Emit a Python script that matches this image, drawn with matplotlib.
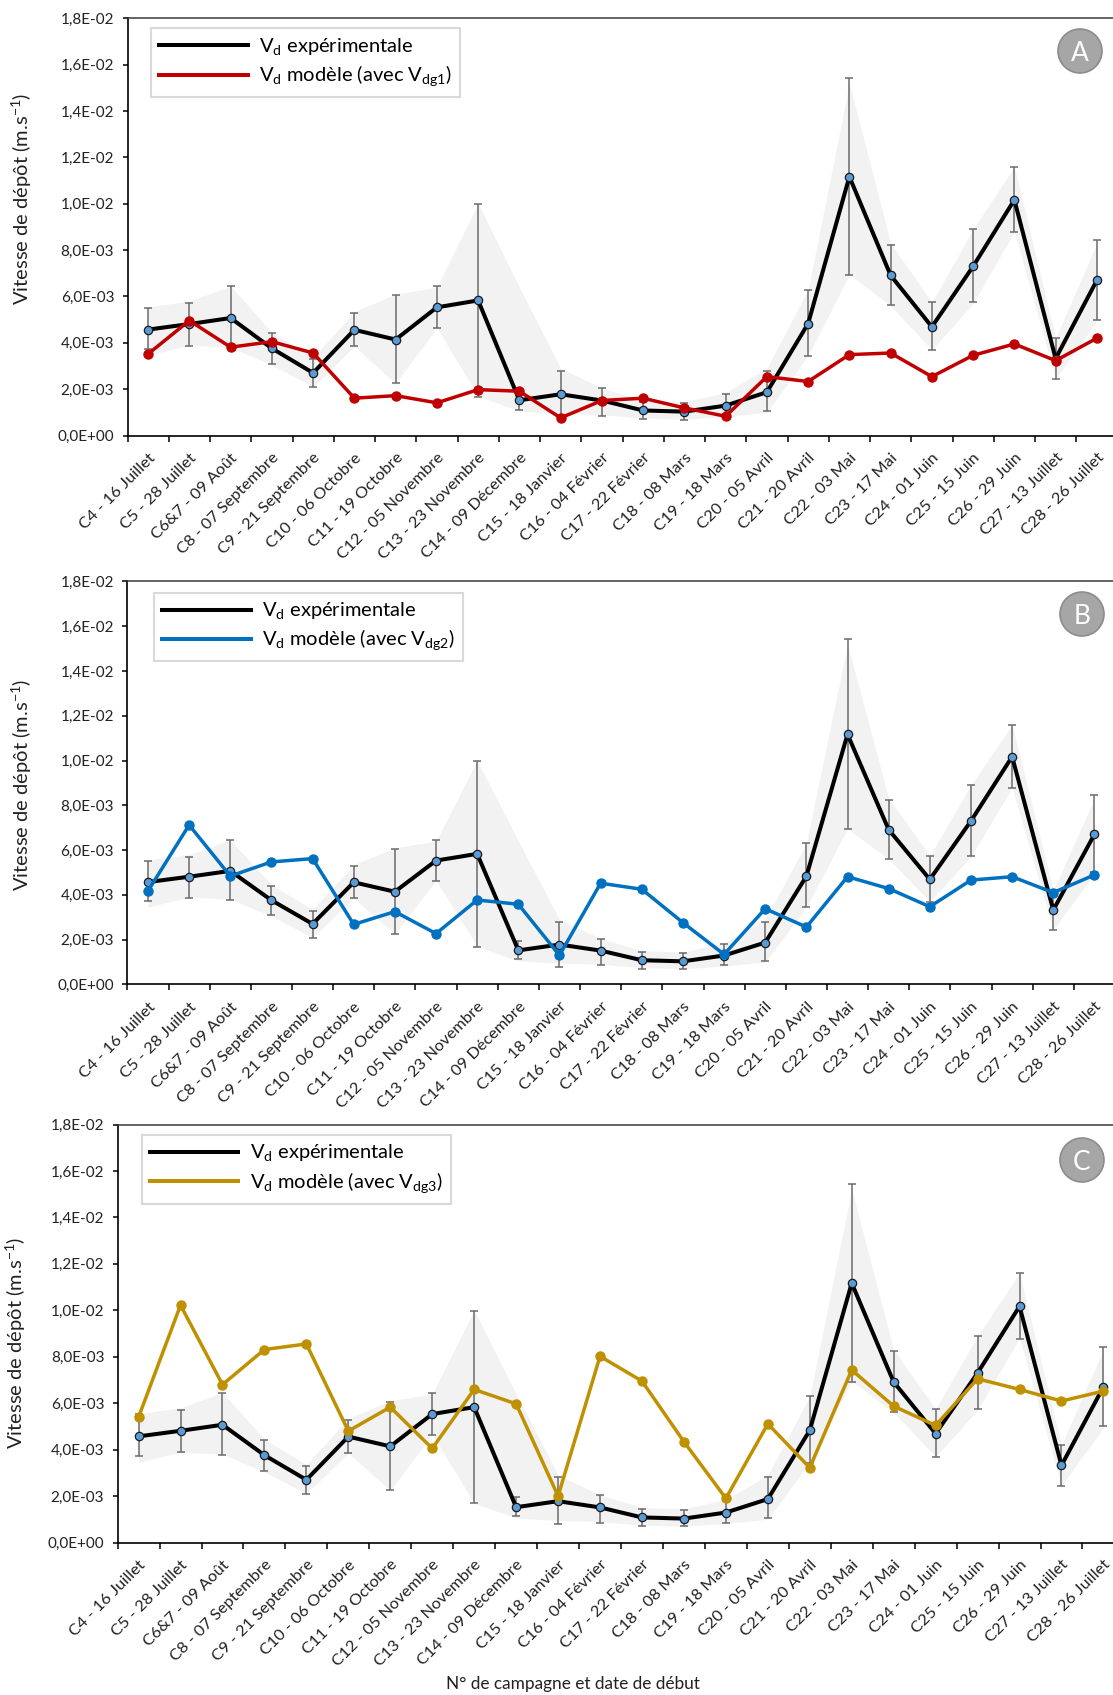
import numpy as np
import matplotlib.pyplot as plt
from matplotlib.patches import Ellipse
from matplotlib.lines import Line2D
from matplotlib.ticker import FuncFormatter, FixedLocator

plt.rcParams['font.family'] = ['Lato', 'DejaVu Sans']
plt.rcParams['mathtext.fontset'] = 'custom'
plt.rcParams['mathtext.rm'] = 'Lato'

W, H = 1113, 1695

campagnes = ["C4 - 16 Juillet", "C5 - 28 Juillet", "C6&7 - 09 Août", "C8 - 07 Septembre",
             "C9 - 21 Septembre", "C10 - 06 Octobre", "C11 - 19 Octobre", "C12 - 05 Novembre",
             "C13 - 23 Novembre", "C14 - 09 Décembre", "C15 - 18 Janvier", "C16 - 04 Février",
             "C17 - 22 Février", "C18 - 08 Mars", "C19 - 18 Mars", "C20 - 05 Avril",
             "C21 - 20 Avril", "C22 - 03 Mai", "C23 - 17 Mai", "C24 - 01 Juin",
             "C25 - 15 Juin", "C26 - 29 Juin", "C27 - 13 Juillet", "C28 - 26 Juillet"]

# vitesses en 1E-03 m/s
vd_exp = [4.57, 4.81, 5.07, 3.76, 2.70, 4.56, 4.14, 5.53, 5.83, 1.52, 1.78, 1.51,
          1.08, 1.03, 1.29, 1.87, 4.83, 11.17, 6.91, 4.69, 7.30, 10.17, 3.32, 6.70]
err_haut = [5.52, 5.70, 6.44, 4.41, 3.28, 5.27, 6.05, 6.44, 9.99, 1.95, 2.80, 2.05,
            1.45, 1.42, 1.80, 2.80, 6.30, 15.44, 8.24, 5.74, 8.90, 11.59, 4.20, 8.44]
err_bas = [3.73, 3.88, 3.76, 3.09, 2.08, 3.85, 2.25, 4.62, 1.68, 1.12, 0.79, 0.86,
           0.70, 0.69, 0.85, 1.04, 3.44, 6.93, 5.62, 3.68, 5.74, 8.78, 2.43, 5.00]
bande_haut = [5.55, 5.80, 6.45, 4.45, 3.35, 5.35, 6.10, 6.40, 10.0, 6.40, 2.90, 2.05,
              1.50, 1.45, 1.85, 2.90, 6.30, 15.2, 8.30, 5.75, 8.90, 11.6, 4.20, 8.30]
bande_bas = [3.45, 3.90, 3.80, 3.05, 2.10, 3.85, 2.25, 4.65, 1.70, 1.05, 0.95, 0.90,
             0.75, 0.70, 0.82, 1.00, 3.45, 6.95, 5.60, 3.70, 5.70, 8.80, 2.45, 4.95]

vd_dg1 = [3.52, 4.96, 3.81, 4.05, 3.56, 1.61, 1.72, 1.41, 1.98, 1.91, 0.76, 1.51,
          1.61, 1.19, 0.83, 2.54, 2.33, 3.49, 3.56, 2.54, 3.46, 3.95, 3.23, 4.20]
vd_dg2 = [4.17, 7.12, 4.84, 5.47, 5.62, 2.68, 3.25, 2.27, 3.77, 3.58, 1.30, 4.52,
          4.25, 2.76, 1.34, 3.38, 2.56, 4.81, 4.28, 3.47, 4.66, 4.81, 4.10, 4.89]
vd_dg3 = [5.40, 10.22, 6.80, 8.31, 8.55, 4.80, 5.83, 4.05, 6.59, 5.97, 2.00, 8.02,
          6.95, 4.34, 1.90, 5.11, 3.22, 7.43, 5.87, 5.04, 7.05, 6.59, 6.09, 6.52]

x = np.arange(len(campagnes))
exp = np.array(vd_exp) * 1e-3
hi = np.array(err_haut) * 1e-3
lo = np.array(err_bas) * 1e-3

panneaux = [
    # cadre (gauche, haut, droite, bas) en pixels, modele, couleur, indice, lettre,
    # centre du cercle, centre du label y, coin de la legende
    ((127.5, 18.4, 1117.5, 435.5), vd_dg1, '#c00000', 'dg1', 'A', (1080, 51), (22, 199),
     (151, 28.3)),
    ((127.4, 581.4, 1115.0, 984.4), vd_dg2, '#0070c0', 'dg2', 'B', (1082, 614), (22, 785),
     (154, 592.7)),
    ((117.6, 1124.5, 1124.4, 1542.5), vd_dg3, '#bf9000', 'dg3', 'C', (1082, 1160), (16, 1343),
     (141.8, 1135)),
]

fig = plt.figure(figsize=(W / 100, H / 100), dpi=100)

fmt = FuncFormatter(lambda v, p: f"{v:.1E}".replace('.', ','))

for (l, t, r, b), modele, coul, ind, lettre, (cx, cy), (lx, ly), (bx, by) in panneaux:
    ax = fig.add_axes([l / W, 1 - b / H, (r - l) / W, (b - t) / H])
    ax.fill_between(x, np.array(bande_bas) * 1e-3, np.array(bande_haut) * 1e-3,
                    color='#f2f2f2', lw=0, zorder=1)
    ax.errorbar(x, exp, yerr=[exp - lo, hi - exp], fmt='none', ecolor='#6b6b6b',
                elinewidth=1.1, capsize=2.6, capthick=1.1, zorder=2)
    ax.plot(x, exp, color='black', lw=2.9, marker='o', ms=6, mfc='#5b9bd5',
            mec='#1a1a1a', mew=0.9, zorder=3)
    ax.plot(x, np.array(modele) * 1e-3, color=coul, lw=2.5, marker='o', ms=6.5,
            mfc=coul, mec=coul, zorder=4)

    ax.set_xlim(-0.5, len(campagnes) - 0.5)
    ax.set_ylim(0, 0.018)
    ax.yaxis.set_major_locator(FixedLocator(np.arange(0, 0.0181, 0.002)))
    ax.yaxis.set_major_formatter(fmt)
    ax.set_xticks(x)
    ax.set_xticklabels(campagnes, rotation=45, ha='right', rotation_mode='anchor')
    ax.xaxis.set_minor_locator(FixedLocator(np.arange(-0.5, len(campagnes), 1.0)))
    ax.tick_params(axis='x', which='major', length=0, pad=11, labelsize=11.8,
                   labelcolor='#222222')
    ax.tick_params(axis='x', which='minor', length=4.5, width=1.1, direction='out')
    ax.tick_params(axis='y', length=3.6, width=1.1, direction='out', pad=6,
                   labelsize=11, labelcolor='#222222')
    for s in ['left', 'bottom']:
        ax.spines[s].set_linewidth(1.2)
        ax.spines[s].set_color('black')
    ax.spines['top'].set_linewidth(1.1)
    ax.spines['top'].set_color('#3a3a3a')
    ax.spines['right'].set_visible(False)

    handles = [Line2D([], [], color='black', lw=2.9),
               Line2D([], [], color=coul, lw=2.9)]
    labels = [r'V$_{\mathregular{d}}$ expérimentale',
              r'V$_{\mathregular{d}}$ modèle (avec V$_{\mathregular{' + ind + r'}}$)']
    leg = ax.legend(handles, labels, loc='upper left',
                    bbox_to_anchor=((bx - l) / (r - l), 1 - (by - t) / (b - t)),
                    borderaxespad=0, fontsize=14.5, handlelength=4.4,
                    handletextpad=0.55, labelspacing=0.3, borderpad=0.4,
                    fancybox=False, framealpha=1, edgecolor='#d9d9d9')
    leg.get_frame().set_linewidth(1.5)

    fig.add_artist(Ellipse((cx / W, 1 - cy / H), 44 / W, 44 / H, transform=fig.transFigure,
                           facecolor='#a6a6a6', edgecolor='#8c8c8c', lw=1.2))
    fig.text(cx / W, 1 - cy / H, lettre, color='white', fontsize=19,
             ha='center', va='center_baseline')

    fig.text(lx / W, 1 - ly / H, r'Vitesse de dépôt (m.s$^{\mathregular{-1}}$)',
             rotation=90, ha='center', va='center', fontsize=14.5, color='#222222')

fig.text(573 / W, 1 - 1684 / H, 'N° de campagne et date de début', ha='center',
         va='center', fontsize=12.4, color='#222222')

fig.savefig('out.png', dpi=100)
